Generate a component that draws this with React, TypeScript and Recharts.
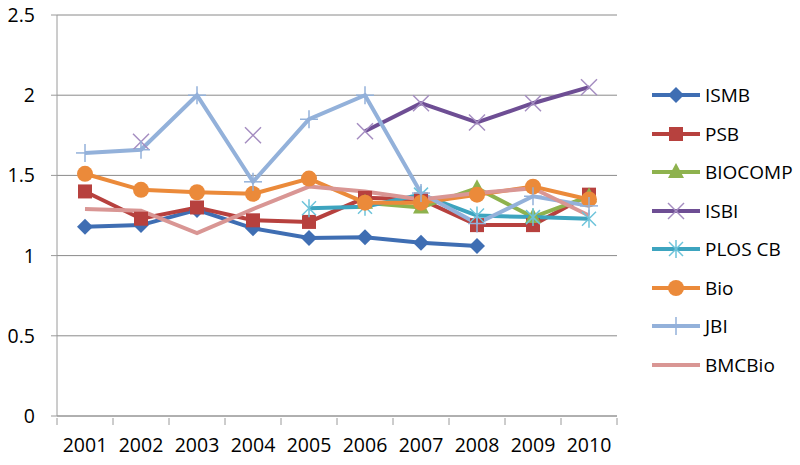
import { CartesianGrid, Legend, Line, LineChart, XAxis, YAxis } from 'recharts'

const years = ['2001', '2002', '2003', '2004', '2005', '2006', '2007', '2008', '2009', '2010']

const ismb = [1.18, 1.19, 1.285, 1.17, 1.11, 1.115, 1.08, 1.06, null, null]
const psb = [1.4, 1.23, 1.3, 1.22, 1.21, 1.36, 1.35, 1.19, 1.19, 1.38]
const biocomp = [null, null, null, null, null, 1.33, 1.3, 1.42, 1.24, 1.37]
const isbi = [null, 1.71, null, 1.75, null, 1.775, 1.95, 1.83, 1.95, 2.05]
const plosCb = [null, null, null, null, 1.295, 1.305, 1.38, 1.25, 1.24, 1.23]
const bio = [1.51, 1.41, 1.395, 1.385, 1.48, 1.33, 1.33, 1.38, 1.43, 1.35]
const jbi = [1.64, 1.66, 2.0, 1.46, 1.85, 2.0, 1.39, 1.2, 1.37, 1.31]
const bmcBio = [1.29, 1.28, 1.14, 1.29, 1.43, 1.4, 1.35, 1.39, 1.42, 1.25]

const yTicks = [0, 0.5, 1, 1.5, 2, 2.5]

type Kind = 'diamond' | 'square' | 'triangle' | 'x' | 'star' | 'circle' | 'plus' | 'none'

const series: { name: string; values: (number | null)[]; color: string; marker: Kind; markColor: string }[] = [
  { name: 'ISMB', values: ismb, color: '#3F6EB3', marker: 'diamond', markColor: '#3F6EB3' },
  { name: 'PSB', values: psb, color: '#B7413E', marker: 'square', markColor: '#B7413E' },
  { name: 'BIOCOMP', values: biocomp, color: '#8EB24E', marker: 'triangle', markColor: '#8EB24E' },
  { name: 'ISBI', values: isbi, color: '#6E4E94', marker: 'x', markColor: '#A48CC0' },
  { name: 'PLOS CB', values: plosCb, color: '#3DA4BF', marker: 'star', markColor: '#6CC3DA' },
  { name: 'Bio', values: bio, color: '#EB8A3A', marker: 'circle', markColor: '#EB8A3A' },
  { name: 'JBI', values: jbi, color: '#93B1DA', marker: 'plus', markColor: '#93B1DA' },
  { name: 'BMCBio', values: bmcBio, color: '#D99694', marker: 'none', markColor: '#D99694' },
]

const data = years.map((year, i) => {
  const row: Record<string, string | number | null> = { year }
  series.forEach((s) => {
    row[s.name] = s.values[i]
  })
  return row
})

function Marker({ kind, cx, cy, color }: { kind: Kind; cx: number; cy: number; color: string }) {
  switch (kind) {
    case 'diamond':
      return <polygon points={`${cx},${cy - 8} ${cx + 8},${cy} ${cx},${cy + 8} ${cx - 8},${cy}`} fill={color} />
    case 'square':
      return <rect x={cx - 7} y={cy - 7} width={14} height={14} fill={color} />
    case 'triangle':
      return <polygon points={`${cx},${cy - 9} ${cx + 8},${cy + 6} ${cx - 8},${cy + 6}`} fill={color} />
    case 'circle':
      return <circle cx={cx} cy={cy} r={8} fill={color} />
    case 'x':
      return (
        <g stroke={color} strokeWidth={1.5}>
          <line x1={cx - 8} y1={cy - 8} x2={cx + 8} y2={cy + 8} />
          <line x1={cx - 8} y1={cy + 8} x2={cx + 8} y2={cy - 8} />
        </g>
      )
    case 'star':
      return (
        <g stroke={color} strokeWidth={1.5}>
          <line x1={cx - 7} y1={cy - 7} x2={cx + 7} y2={cy + 7} />
          <line x1={cx - 7} y1={cy + 7} x2={cx + 7} y2={cy - 7} />
          <line x1={cx} y1={cy - 9} x2={cx} y2={cy + 9} />
        </g>
      )
    case 'plus':
      return (
        <g stroke={color} strokeWidth={1.5}>
          <line x1={cx - 9} y1={cy} x2={cx + 9} y2={cy} />
          <line x1={cx} y1={cy - 9} x2={cx} y2={cy + 9} />
        </g>
      )
    default:
      return null
  }
}

// excel style: tick marks sit between categories, labels in the middle
function YearTick(props: any) {
  const { x, y, payload, index, width } = props
  const band = (width || 560) / years.length
  const axisY = y - 6
  return (
    <g>
      <line x1={x - band / 2} y1={axisY} x2={x - band / 2} y2={axisY + 7} stroke="#9a9a9a" />
      {index === years.length - 1 && (
        <line x1={x + band / 2} y1={axisY} x2={x + band / 2} y2={axisY + 7} stroke="#9a9a9a" />
      )}
      <text x={x} y={y + 14} dy="0.71em" textAnchor="middle" fill="#000">
        {payload.value}
      </text>
    </g>
  )
}

function renderLegend() {
  return (
    <div>
      {series.map((s) => (
        <div key={s.name} style={{ display: 'flex', alignItems: 'center', height: 38.5 }}>
          <svg width={50} height={20}>
            <line x1={1} y1={10} x2={49} y2={10} stroke={s.color} strokeWidth={4} />
            <Marker kind={s.marker} cx={25} cy={10} color={s.markColor} />
          </svg>
          <span style={{ marginLeft: 4, color: '#000', fontSize: 19 }}>{s.name}</span>
        </div>
      ))}
    </div>
  )
}

export default function App() {
  return (
    <div style={{ position: 'absolute', left: 0, top: 0, background: '#fff' }}>
      <LineChart
        width={800}
        height={465}
        data={data}
        margin={{ top: 15, right: 33, bottom: 0, left: 0 }}
        style={{ fontFamily: '"Open Sans", sans-serif', fontSize: 19.5 }}
      >
        <CartesianGrid vertical={false} stroke="#8a8a8a" />
        <XAxis
          dataKey="year"
          padding={{ left: 28, right: 28 }}
          stroke="#9a9a9a"
          tickLine={false}
          height={49}
          tickSize={6}
          tick={<YearTick />}
          interval={0}
        />
        <YAxis
          domain={[0, 2.5]}
          ticks={yTicks}
          width={57}
          stroke="#9a9a9a"
          tickSize={6}
          tickMargin={16}
          tick={{ fill: '#000' }}
        />
        <Legend
          layout="vertical"
          align="right"
          verticalAlign="top"
          content={renderLegend}
          wrapperStyle={{ left: 651, top: 76, width: 150 }}
        />
        {series.map((s) => (
          <Line
            key={s.name}
            dataKey={s.name}
            stroke={s.color}
            strokeWidth={4}
            type="linear"
            connectNulls={false}
            isAnimationActive={false}
            dot={(p: any) => {
              if (p.cx == null || p.cy == null || p.value == null) return <g key={p.key ?? p.index} />
              return (
                <g key={p.key ?? p.index}>
                  <Marker kind={s.marker} cx={p.cx} cy={p.cy} color={s.markColor} />
                </g>
              )
            }}
            activeDot={false}
          />
        ))}
      </LineChart>
    </div>
  )
}
